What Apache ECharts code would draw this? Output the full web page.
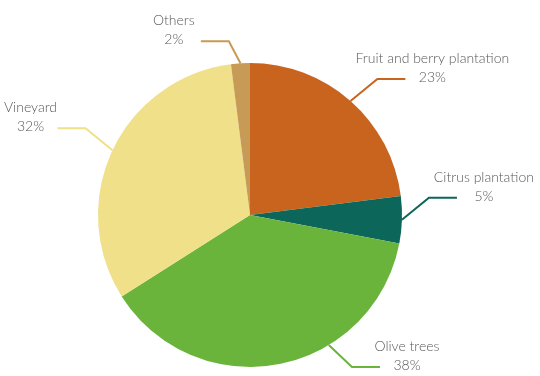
<!DOCTYPE html>
<html>
<head>
<meta charset="utf-8">
<script src="https://cdn.jsdelivr.net/npm/echarts@6/dist/echarts.min.js"></script>
<style>
  html, body { margin: 0; padding: 0; background: #fff; }
  #chart { width: 540px; height: 376px; }
</style>
</head>
<body>
<div id="chart"></div>
<script>
const categories = ["Fruit and berry plantation", "Citrus plantation", "Olive trees", "Vineyard", "Others"];
const shares = [23, 5, 38, 32, 2];
const colors = ["#C9641F", "#0C6659", "#6AB43C", "#F0E08A", "#C79A56"];

const CX = 250, CY = 215, R = 152;
const MAX_START_Y = 345; // keep leader lines off the bottom edge

const chart = echarts.init(document.getElementById("chart"));

// Excel-like leader: short diagonal, then horizontal, label centred past it
function leader(params) {
  const p0 = params.labelLinePoints && params.labelLinePoints[0];
  if (!p0) return {};
  let ang = Math.atan2(p0[0] - CX, -(p0[1] - CY)); // 0 = top, clockwise
  // slide the anchor along the arc if it sits too low
  const limit = Math.acos((MAX_START_Y - CY) / R);
  if (Math.abs(ang) > Math.PI - limit) {
    ang = ang > 0 ? Math.PI - limit : -(Math.PI - limit);
  }
  const s = [CX + R * Math.sin(ang), CY - R * Math.cos(ang)];
  const side = Math.sin(ang) >= 0 ? 1 : -1;
  const up = Math.cos(ang) > -0.3 ? -1 : 1;
  const hx = side * (10 + 17 * Math.min(1, Math.abs(Math.sin(ang)) * 1.5));
  const elbow = [s[0] + hx, s[1] + up * 22];
  const end = [elbow[0] + side * 28, elbow[1]];
  return {
    x: end[0] + side * 27,
    y: end[1] - 11,
    align: "center",
    verticalAlign: "middle",
    labelLinePoints: [s, elbow, end]
  };
}

chart.setOption({
  animation: false,
  series: [
    {
      type: "pie",
      center: [CX, CY],
      radius: R,
      startAngle: 90,
      clockwise: true,
      avoidLabelOverlap: false,
      label: {
        show: true,
        position: "outside",
        overflow: "none",
        formatter: "{n|{b}}\n{p|{c}%}",
        color: "#595959",
        fontFamily: "Lato",
        fontSize: 14,
        fontWeight: 300,
        rich: {
          n: { align: "center", fontFamily: "Lato", fontSize: 14, fontWeight: 300, color: "#595959", lineHeight: 19 },
          p: { align: "center", fontFamily: "Lato", fontSize: 14, fontWeight: 300, color: "#595959", lineHeight: 19 }
        }
      },
      labelLine: { show: true, length: 30, length2: 30, lineStyle: { width: 2 } },
      labelLayout: leader,
      data: categories.map((name, i) => ({
        name: name,
        value: shares[i],
        itemStyle: { color: colors[i] },
        labelLine: { lineStyle: { color: colors[i] } }
      }))
    }
  ]
});
</script>
</body>
</html>
